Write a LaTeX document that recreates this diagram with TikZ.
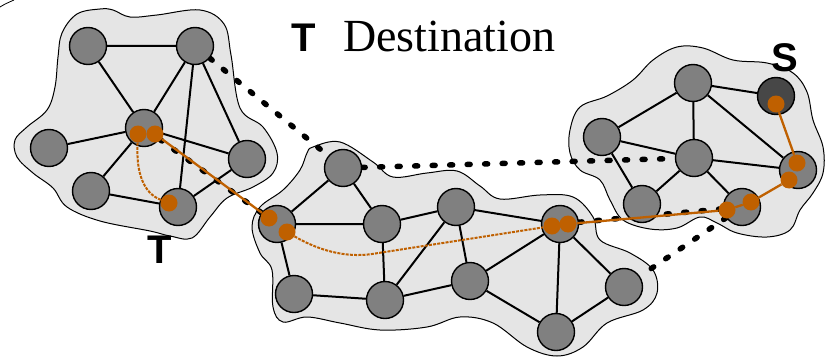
\documentclass[tikz,border=0pt]{standalone}
\usepackage{fontspec}
\setmainfont{Liberation Serif}
\newfontfamily\labelsans{Liberation Sans}
\pgfdeclarelayer{bg}
\pgfdeclarelayer{dots}
\pgfdeclarelayer{edges}
\pgfdeclarelayer{top}
\pgfsetlayers{bg,dots,edges,main,top}
\definecolor{pathorange}{RGB}{191,96,0}
\tikzset{
  host/.style={circle, draw=black, line width=1.4pt, fill=gray, minimum size=37pt, inner sep=0pt},
  srchost/.style={host, fill=black!72},
  link/.style={line width=2pt},
  dotline/.style={line width=5.5pt, line cap=round, dash pattern=on 3pt off 14.5pt},
  blob/.style={fill=gray!20, draw=black, line width=1pt},
  hop/.style={circle, fill=pathorange, minimum size=17pt, inner sep=0pt},
  route/.style={draw=pathorange, line width=2.3pt},
  routedash/.style={draw=pathorange, line width=2pt, dash pattern=on 3pt off 1.2pt},
  biglabel/.style={font=\labelsans\bfseries\fontsize{40}{44}\selectfont, inner sep=0pt, anchor=base},
}
\begin{document}
\begin{tikzpicture}[x=1pt,y=-1pt]
\useasboundingbox (0,0) rectangle (826,361);

% blobs
\begin{pgfonlayer}{bg}
\draw[blob] plot[smooth cycle, tension=0.6] coordinates {
 (62,33) (77,14) (100,9) (113,10) (130,17) (157,15) (200,10) (224,24) (231,55)
 (240,108) (263,127) (277,153) (273,173) (253,187) (227,198) (210,217) (192,238)
 (170,236) (150,231) (100,221) (67,207) (53,188) (33,173) (17,157) (15,140)
 (27,127) (47,110) (55,87) (58,57)};
\draw[blob] plot[smooth cycle, tension=0.6] coordinates {
 (313,147) (340,142) (373,162) (393,177) (427,173) (457,171) (480,186) (500,199)
 (540,195) (573,197) (593,217) (600,240) (630,253) (653,270) (657,293) (643,310)
 (607,323) (583,347) (557,356) (527,347) (493,323) (460,317) (427,327) (380,330)
 (340,323) (307,317) (283,322) (273,307) (272,270) (260,253) (252,227) (260,207)
 (283,190) (300,170) (307,153)};
\draw[blob] plot[smooth cycle, tension=0.6] coordinates {
 (570,130) (580,107) (607,96) (633,80) (653,60) (677,47) (703,48) (733,60)
 (767,63) (793,73) (807,92) (813,120) (823,147) (823,173) (813,193) (800,210)
 (790,230) (767,237) (737,233) (717,223) (700,217) (677,228) (650,229) (623,220)
 (610,200) (600,180) (580,170) (570,153)};
\draw[line width=0.8pt] (0,7) .. controls (5,4) .. (14,0);
\end{pgfonlayer}

% hosts
\node[host] (a1) at (88,46) {};
\node[host] (a2) at (195,46) {};
\node[host] (a3) at (144,128) {};
\node[host] (a4) at (49,148) {};
\node[host] (a5) at (247,159) {};
\node[host] (a6) at (91,191) {};
\node[host] (a7) at (178,207) {};

\node[host] (b1) at (277,224) {};
\node[host] (b2) at (343,168) {};
\node[host] (b3) at (382,224) {};
\node[host] (b4) at (456,207) {};
\node[host] (b5) at (294,294) {};
\node[host] (b6) at (385,300) {};
\node[host] (b7) at (470,281) {};
\node[host] (b8) at (560,224) {};
\node[host] (b9) at (624,287) {};
\node[host] (b10) at (556,332) {};

\node[host] (c1) at (693,83) {};
\node[srchost] (c2) at (776,96) {};
\node[host] (c3) at (602,137) {};
\node[host] (c4) at (694,158) {};
\node[host] (c5) at (798,170) {};
\node[host] (c6) at (642,204) {};
\node[host] (c7) at (742,207) {};

% links
\begin{pgfonlayer}{edges}
\draw[link] (a1)--(a2) (a1)--(a3) (a2)--(a3) (a2)--(a7) (a2)--(a5)
            (a3)--(a4) (a3)--(a5) (a3)--(a6) (a6)--(a7) (a7)--(a5);
\draw[link] (b1)--(b2) (b1)--(b3) (b1)--(b5) (b2)--(b3) (b3)--(b4) (b3)--(b6)
            (b4)--(b6) (b4)--(b7) (b4)--(b8) (b5)--(b6) (b6)--(b7) (b7)--(b8)
            (b7)--(b10) (b8)--(b10) (b8)--(b9) (b9)--(b10);
\draw[link] (c1)--(c2) (c1)--(c3) (c1)--(c4) (c1)--(c5) (c3)--(c4) (c3)--(c6)
            (c4)--(c5) (c4)--(c6) (c4)--(c7);
\end{pgfonlayer}

% overlay (dotted) links
\begin{pgfonlayer}{dots}
\draw[dotline] (a2)--(b2);
\draw[dotline] (a3)--(b1);
\draw[dotline] (b2)--(c4);
\draw[dotline] (b8)--(c7);
\draw[dotline] (c7)--(b9);
\end{pgfonlayer}

% route
\begin{pgfonlayer}{top}
\node[hop] (o1) at (138,134) {};
\node[hop] (o2) at (155,134) {};
\node[hop] (o3) at (169,203) {};
\node[hop] (o4) at (269,218) {};
\node[hop] (o5) at (287,232) {};
\node[hop] (o6) at (552,226) {};
\node[hop] (o7) at (568,224) {};
\node[hop] (o8) at (727,210) {};
\node[hop] (o9) at (751,202) {};
\node[hop] (o10) at (789,180) {};
\node[hop] (o11) at (797,163) {};
\node[hop] (o12) at (776,104) {};
\draw[route] (o2)--(o4);
\draw[route] (o7)--(o8);
\draw[route] (o8)--(o9);
\draw[route] (o9)--(o10);
\draw[route] (o11)--(o12);
\draw[routedash] (o1) .. controls (136,172) and (143,193) .. (o3);
\draw[routedash] (o5) .. controls (318,250) and (345,258) .. (372,254) -- (o6);
\end{pgfonlayer}

% labels
\node[biglabel] (tdst) at (304,52) {T};
\node[anchor=base west, inner sep=0pt, font=\fontsize{46}{50}\selectfont] (dst) at (343,52) {Destination};
\node[biglabel] (tlab) at (160,263) {T};
\node[biglabel] (slab) at (785,71) {S};
\end{tikzpicture}
\end{document}
